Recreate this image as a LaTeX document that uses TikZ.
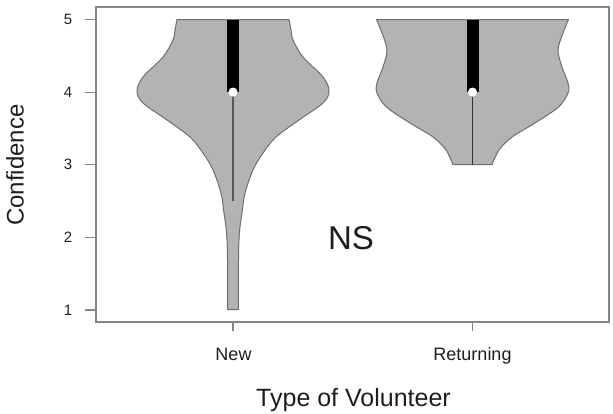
\documentclass[tikz,border=0pt]{standalone}
\usepackage{fontspec}
\setmainfont{Liberation Sans}
\definecolor{violgray}{HTML}{B3B3B3}
\definecolor{edgegray}{HTML}{6E6E6E}
\definecolor{framegray}{HTML}{858585}
\definecolor{txt}{HTML}{1E1E1E}
\begin{document}
\begin{tikzpicture}[x=1pt,y=-1pt,
  violin/.style={fill=violgray, draw=edgegray, line width=1pt, line join=round},
  frame/.style={draw=framegray, line width=1.4pt},
  tickline/.style={draw=framegray, line width=1.2pt},
  ticklab/.style={text=txt, font=\fontsize{15}{15}\selectfont, inner sep=0pt},
  catlab/.style={text=txt, font=\fontsize{18}{18}\selectfont, inner sep=0pt, anchor=base},
  axtitle/.style={text=txt, font=\fontsize{25}{25}\selectfont, inner sep=0pt},
  bar/.style={fill=black},
  meddot/.style={fill=white}]
\useasboundingbox (0,0) rectangle (613,413);

% violin: New
\path[violin] plot[smooth, tension=0.55] coordinates {(177,19.5) (175,30) (173,40) (163,57) (143,77) (137,91) (143,103) (167,120) (190,137) (203,153) (213,170) (221,193) (224,213) (226,227) (227,240) (227.5,260) (227.5,309.5)}
  -- plot[smooth, tension=0.55] coordinates {(238.5,309.5) (238.5,260) (239,240) (240,227) (242,213) (245,193) (253,170) (263,153) (276,137) (299,120) (323,103) (329,91) (323,77) (303,57) (293,40) (291,30) (289,19.5)}
  -- cycle;
% violin: Returning
\path[violin] plot[smooth, tension=0.55] coordinates {(376.5,19.5) (382,33) (387,50) (383,67) (377,83) (377,93) (386.5,107) (410,123) (433,137) (446,150) (453,164.7)}
  -- plot[smooth, tension=0.55] coordinates {(492,164.7) (499,150) (512,137) (535,123) (558.5,107) (568,93) (568,83) (562,67) (558,50) (563,33) (568.5,19.5)}
  -- cycle;

% whiskers
\coordinate (nq1) at (233,92.1);
\coordinate (nlo) at (233,201.2);
\coordinate (rq1) at (472.5,92.1);
\coordinate (rlo) at (472.5,164.7);
\draw[draw=edgegray!80!black, line width=1.4pt] (nq1) -- (nlo);
\draw[draw=black!80, line width=1.1pt] (rq1) -- (rlo);
% boxes
\path[bar] (227,19.5) rectangle (239,92.1);
\path[bar] (466.5,19.5) rectangle (478.5,92.1);
\path[meddot] (nq1) circle (4.6pt);
\path[meddot] (rq1) circle (4.6pt);

% frame
\path[frame] (96,7) rectangle (609,322);
% y ticks
\foreach \v/\yy in {5/19.5,4/92.1,3/164.7,2/237.3,1/309.9}{
  \coordinate (yt\v) at (96,\yy);
  \draw[tickline] (yt\v) -- ++(-11,0);
  \node[ticklab] (yl\v) at (68,\yy) {\v};
}
% x ticks
\coordinate (xtn) at (233,322);
\coordinate (xtr) at (472.5,322);
\draw[tickline] (xtn) -- ++(0,9);
\draw[tickline] (xtr) -- ++(0,9);
\node[catlab] (lnew) at (233.5,360) {New};
\node[catlab] (lret) at (472.5,360) {Returning};

\node[axtitle, anchor=base] (xtitle) at (353.5,406) {Type of Volunteer};
\node[axtitle, rotate=90, font=\fontsize{24}{24}\selectfont] (ytitle) at (15,165) {Confidence};
\node[text=txt, inner sep=0pt, font=\fontsize{33}{33}\selectfont] (ns) at (351,238.5) {NS};
\end{tikzpicture}
\end{document}
